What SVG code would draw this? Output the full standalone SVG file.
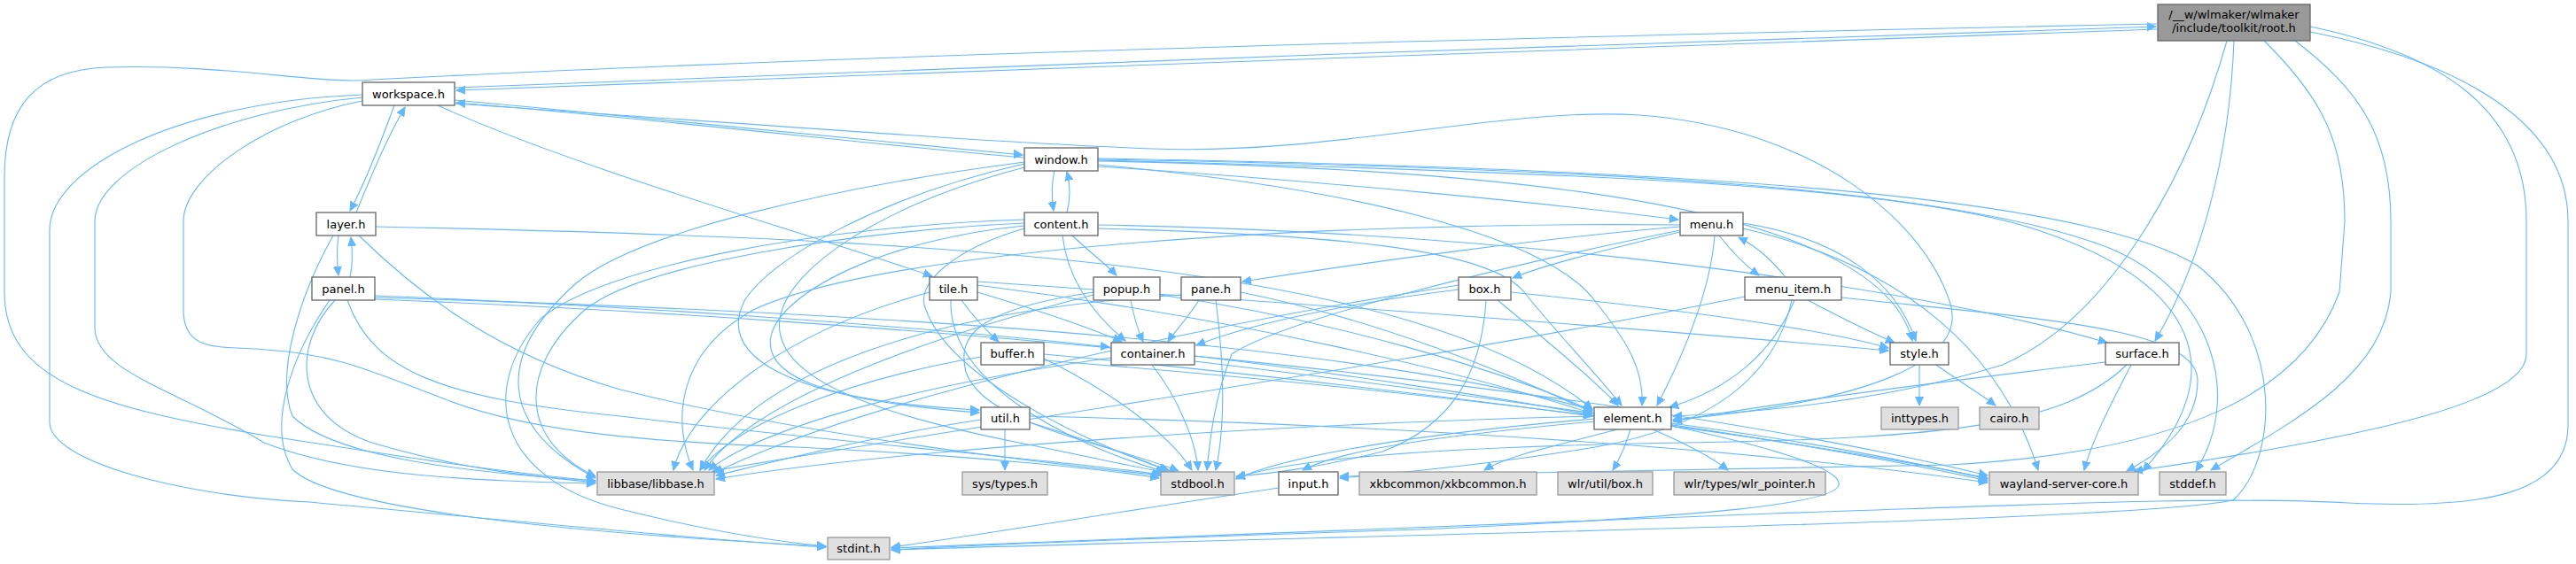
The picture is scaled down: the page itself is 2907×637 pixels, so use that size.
<svg xmlns="http://www.w3.org/2000/svg" width="2907" height="637" viewBox="0 0 2907 637">
<style>
.n rect{fill:#ffffff;stroke:#666666;stroke-width:1.3}
.s rect{fill:#e0e0e0;stroke:#999999;stroke-width:1.3}
.r rect{fill:#999999;stroke:#666666;stroke-width:1.3}
text{font-family:"DejaVu Sans","Liberation Sans",sans-serif;font-size:13px;text-anchor:middle;fill:#000000}
#edges path{fill:none;stroke:#63b8ff;stroke-width:1.1;marker-end:url(#a)}
</style>
<defs>
<marker id="a" markerUnits="userSpaceOnUse" markerWidth="11" markerHeight="10" refX="10" refY="5" orient="auto">
<path d="M0,0.5 L10,5 L0,9.5 Z" fill="#63b8ff" stroke="#63b8ff" stroke-width="1"/>
</marker>
</defs>
<rect width="2907" height="637" fill="#ffffff"/>
<g id="edges">
<path d="M2434,33 C1900,50 1000,85 515,102"/>
<path d="M513,99 C1000,80 1900,45 2433,30"/>
<path d="M2434,27 C1800,40 1000,60 420,90 C360,96 260,72 120,76 C40,79 5,120 5,200 L5,330 C5,430 110,460 300,492 C450,515 560,533 672,543"/>
<path d="M2513,46 C2470,200 2380,360 2260,412 C2120,455 1980,466 1888,470"/>
<path d="M2521,46 C2516,180 2482,300 2432,385"/>
<path d="M2555,46 C2620,110 2646,160 2646,250 L2640,330 C2600,440 2470,510 2200,525 C1900,532 1650,535 1512,538"/>
<path d="M2590,46 C2660,100 2698,150 2698,250 L2698,330 C2690,420 2600,470 2495,531"/>
<path d="M2607,30 C2750,60 2851,120 2851,250 L2851,400 C2851,450 2700,490 2408,532"/>
<path d="M2607,36 C2780,70 2898,140 2898,250 L2898,480 C2898,560 2800,575 2650,568 C2500,560 2300,570 2000,580 C1600,595 1200,612 1006,619"/>
<path d="M445,119 C430,160 410,210 395,238"/>
<path d="M402,240 C418,200 440,150 457,121"/>
<path d="M494,119 C650,190 900,260 1052,312"/>
<path d="M513,113 C750,135 1000,160 1154,175"/>
<path d="M1156,178 C1000,165 750,135 515,116"/>
<path d="M513,117 C850,140 1100,160 1300,168 C1500,176 1700,120 1850,130 C2050,145 2170,250 2200,340 C2225,410 2100,455 1888,474"/>
<path d="M409,110 C250,125 107,190 107,250 L107,370 C107,420 200,440 298,500 C400,540 550,543 672,546"/>
<path d="M409,107 C200,115 56,190 56,260 L56,477 C56,520 200,560 349,567 C600,590 800,610 932,618"/>
<path d="M409,114 C300,135 207,200 207,250 L207,350 C207,400 250,390 300,395 C380,400 420,420 500,450 C600,490 750,500 900,505 C1100,515 1250,530 1308,540"/>
<path d="M1190,192 C1186,210 1187,225 1189,238"/>
<path d="M1204,240 C1208,225 1208,210 1204,194"/>
<path d="M1239,188 C1500,205 1750,230 1894,248"/>
<path d="M1156,183 C950,210 720,260 650,320 C560,400 560,480 672,540"/>
<path d="M1156,185 C1000,220 870,290 840,340 C810,400 880,450 1105,466"/>
<path d="M1156,189 C1000,230 890,300 880,360 C870,430 1000,470 1150,500 C1250,520 1290,530 1315,533"/>
<path d="M1239,182 C1700,190 2120,230 2158,385"/>
<path d="M1239,181 C1800,195 2150,210 2300,260 C2480,320 2520,420 2418,532"/>
<path d="M1239,180 C1800,190 2200,210 2380,280 C2500,330 2530,450 2478,532"/>
<path d="M1239,179 C1900,190 2350,220 2480,300 C2580,380 2570,520 2520,565 C2400,590 1500,605 1006,621"/>
<path d="M1239,186 C1500,210 1740,260 1800,340 C1840,390 1855,420 1853,458"/>
<path d="M1210,266 C1230,285 1250,300 1260,311"/>
<path d="M1199,266 C1205,320 1240,360 1270,385"/>
<path d="M1156,258 C1080,280 1030,320 1045,350 C1070,420 1200,490 1320,532"/>
<path d="M1156,255 C1000,270 880,330 870,380 C860,430 950,455 1105,463"/>
<path d="M1156,252 C950,262 720,300 660,350 C580,420 590,500 672,538"/>
<path d="M1156,248 C930,255 680,300 610,360 C540,440 560,540 700,575 C800,600 880,612 932,617"/>
<path d="M1239,258 C1500,265 1680,280 1720,330 C1760,380 1800,420 1830,458"/>
<path d="M1239,254 C1700,262 2150,320 2378,387"/>
<path d="M1940,266 C1955,285 1970,300 1985,311"/>
<path d="M2015,313 C2000,295 1985,280 1962,268"/>
<path d="M1896,262 C1800,285 1740,300 1707,314"/>
<path d="M1896,256 C1750,268 1550,295 1402,318"/>
<path d="M1935,266 C1930,330 1900,400 1870,458"/>
<path d="M1967,252 C2080,270 2140,320 2162,385"/>
<path d="M1967,258 C2150,300 2260,400 2300,531"/>
<path d="M1896,254 C1500,250 1000,280 850,350 C760,400 760,480 782,531"/>
<path d="M1896,260 C1700,300 1450,360 1390,400 C1370,450 1365,500 1362,531"/>
<path d="M2040,339 C2080,360 2110,375 2138,387"/>
<path d="M2025,339 C2000,400 1950,440 1884,460"/>
<path d="M2022,339 C2005,420 1940,480 1800,505 C1680,525 1570,535 1512,540"/>
<path d="M1969,335 C1600,410 1100,480 804,532"/>
<path d="M2078,336 C2300,360 2480,370 2480,430 C2480,480 2440,510 2400,532"/>
<path d="M1646,327 C1500,345 1400,370 1350,390"/>
<path d="M1690,339 C1740,380 1800,430 1826,458"/>
<path d="M1705,330 C1900,350 2050,370 2131,393"/>
<path d="M1677,339 C1672,420 1640,480 1560,510 C1480,530 1430,535 1395,538"/>
<path d="M1646,322 C1400,360 1000,440 806,534"/>
<path d="M1353,339 C1340,360 1325,375 1318,386"/>
<path d="M1372,339 C1380,400 1385,470 1372,531"/>
<path d="M1400,330 C1550,360 1700,420 1797,466"/>
<path d="M1333,333 C1050,350 850,420 790,531"/>
<path d="M1276,339 C1280,360 1285,375 1290,386"/>
<path d="M1309,333 C1500,360 1700,420 1797,464"/>
<path d="M1234,330 C1100,350 1080,380 1090,420 C1110,480 1250,500 1330,532"/>
<path d="M1234,333 C1050,380 850,450 795,531"/>
<path d="M1085,339 C1100,360 1115,375 1127,386"/>
<path d="M1103,330 C1170,350 1230,370 1266,386"/>
<path d="M1103,322 C1400,360 1650,420 1797,467"/>
<path d="M1103,318 C1500,345 1900,375 2131,396"/>
<path d="M1049,330 C900,370 780,450 760,531"/>
<path d="M1073,339 C1070,430 1200,500 1315,533"/>
<path d="M1178,400 C1400,420 1650,450 1797,470"/>
<path d="M1107,403 C950,430 830,480 790,531"/>
<path d="M1178,405 C1250,440 1320,490 1345,531"/>
<path d="M1178,407 C1600,440 2000,490 2243,540"/>
<path d="M1348,402 C1500,420 1700,450 1797,469"/>
<path d="M1254,404 C1000,440 850,490 800,531"/>
<path d="M1300,412 C1330,450 1350,500 1352,531"/>
<path d="M1348,408 C1700,450 2050,500 2243,543"/>
<path d="M2166,412 C2166,430 2166,445 2166,458"/>
<path d="M2185,412 C2210,430 2235,445 2252,458"/>
<path d="M2376,409 C2200,430 2000,455 1888,476"/>
<path d="M2405,412 C2380,460 2360,500 2352,531"/>
<path d="M2400,412 C2330,480 2200,495 1900,500 C1600,505 1450,520 1395,540"/>
<path d="M1134,485 C1134,500 1134,515 1134,531"/>
<path d="M1107,474 C1000,490 900,515 808,537"/>
<path d="M1162,477 C1220,495 1280,515 1318,532"/>
<path d="M1162,470 C1600,480 2000,510 2243,545"/>
<path d="M1799,476 C1650,490 1520,505 1470,531"/>
<path d="M1825,485 C1750,505 1700,515 1675,531"/>
<path d="M1840,485 C1835,500 1830,515 1820,531"/>
<path d="M1865,485 C1900,500 1930,515 1950,531"/>
<path d="M1799,470 C1400,480 1000,510 808,541"/>
<path d="M1799,473 C1600,490 1450,515 1395,541"/>
<path d="M1886,481 C2000,505 2080,530 2075,548 C2070,570 1900,585 1600,598 C1300,608 1100,615 1006,621"/>
<path d="M1886,478 C2050,500 2150,520 2243,541"/>
<path d="M1443,551 C1250,580 1100,605 1006,618"/>
<path d="M382,266 C380,280 380,295 382,311"/>
<path d="M395,313 C398,300 398,285 396,268"/>
<path d="M376,266 C340,330 310,420 330,470 C380,520 550,535 672,543"/>
<path d="M405,266 C470,330 560,400 700,440 C900,490 1150,520 1310,537"/>
<path d="M424,256 C1100,270 1600,300 1797,462"/>
<path d="M423,334 C700,345 1000,365 1252,392"/>
<path d="M423,336 C900,350 1500,380 1797,463"/>
<path d="M378,339 C330,390 330,470 420,500 C520,530 600,538 672,545"/>
<path d="M392,339 C420,420 500,450 700,470 C950,500 1200,520 1310,536"/>
<path d="M372,339 C330,400 300,480 330,530 C380,580 700,605 932,617"/>
<path d="M423,338 C1000,360 1800,430 2243,537"/>
</g>
<g id="root" class="r"><rect x="2435" y="5" width="172" height="41"/><text x="2521" y="21">/__w/wlmaker/wlmaker</text><text x="2521" y="36">/include/toolkit/root.h</text></g>
<g id="workspace" class="n"><rect x="409" y="93" width="104" height="26"/><text x="461" y="110.5">workspace.h</text></g>
<g id="window" class="n"><rect x="1156" y="167" width="83" height="26"/><text x="1197.5" y="184.5">window.h</text></g>
<g id="layer" class="n"><rect x="357" y="240" width="67" height="26"/><text x="390.5" y="257.5">layer.h</text></g>
<g id="content" class="n"><rect x="1156" y="240" width="83" height="26"/><text x="1197.5" y="257.5">content.h</text></g>
<g id="menu" class="n"><rect x="1896" y="240" width="71" height="26"/><text x="1931.5" y="257.5">menu.h</text></g>
<g id="panel" class="n"><rect x="352" y="313" width="71" height="26"/><text x="387.5" y="330.5">panel.h</text></g>
<g id="tile" class="n"><rect x="1049" y="313" width="54" height="26"/><text x="1076" y="330.5">tile.h</text></g>
<g id="popup" class="n"><rect x="1234" y="313" width="75" height="26"/><text x="1271.5" y="330.5">popup.h</text></g>
<g id="pane" class="n"><rect x="1333" y="313" width="67" height="26"/><text x="1366.5" y="330.5">pane.h</text></g>
<g id="box" class="n"><rect x="1646" y="313" width="59" height="26"/><text x="1675.5" y="330.5">box.h</text></g>
<g id="menu_item" class="n"><rect x="1969" y="313" width="109" height="26"/><text x="2023.5" y="330.5">menu_item.h</text></g>
<g id="buffer" class="n"><rect x="1107" y="387" width="71" height="25"/><text x="1142.5" y="404">buffer.h</text></g>
<g id="container" class="n"><rect x="1254" y="387" width="94" height="25"/><text x="1301" y="404">container.h</text></g>
<g id="style" class="n"><rect x="2133" y="387" width="66" height="25"/><text x="2166" y="404">style.h</text></g>
<g id="surface" class="n"><rect x="2376" y="387" width="83" height="25"/><text x="2417.5" y="404">surface.h</text></g>
<g id="util" class="n"><rect x="1107" y="460" width="55" height="25"/><text x="1134.5" y="477">util.h</text></g>
<g id="element" class="n"><rect x="1799" y="460" width="87" height="25"/><text x="1842.5" y="477">element.h</text></g>
<g id="inttypes" class="s"><rect x="2123" y="460" width="87" height="25"/><text x="2166.5" y="477">inttypes.h</text></g>
<g id="cairo" class="s"><rect x="2234" y="460" width="67" height="25"/><text x="2267.5" y="477">cairo.h</text></g>
<g id="libbase" class="s"><rect x="674" y="533" width="132" height="26"/><text x="740" y="550.5">libbase/libbase.h</text></g>
<g id="systypes" class="s"><rect x="1086" y="533" width="96" height="26"/><text x="1134" y="550.5">sys/types.h</text></g>
<g id="stdbool" class="s"><rect x="1310" y="533" width="83" height="26"/><text x="1351.5" y="550.5">stdbool.h</text></g>
<g id="input" class="n"><rect x="1443" y="533" width="67" height="26"/><text x="1476.5" y="550.5">input.h</text></g>
<g id="xkbcommon" class="s"><rect x="1534" y="533" width="200" height="26"/><text x="1634" y="550.5">xkbcommon/xkbcommon.h</text></g>
<g id="wlrbox" class="s"><rect x="1758" y="533" width="107" height="26"/><text x="1811.5" y="550.5">wlr/util/box.h</text></g>
<g id="wlrpointer" class="s"><rect x="1889" y="533" width="171" height="26"/><text x="1974.5" y="550.5">wlr/types/wlr_pointer.h</text></g>
<g id="wayland" class="s"><rect x="2245" y="533" width="168" height="26"/><text x="2329" y="550.5">wayland-server-core.h</text></g>
<g id="stddef" class="s"><rect x="2437" y="533" width="75" height="26"/><text x="2474.5" y="550.5">stddef.h</text></g>
<g id="stdint" class="s"><rect x="934" y="607" width="70" height="25"/><text x="969" y="624">stdint.h</text></g>
</svg>
